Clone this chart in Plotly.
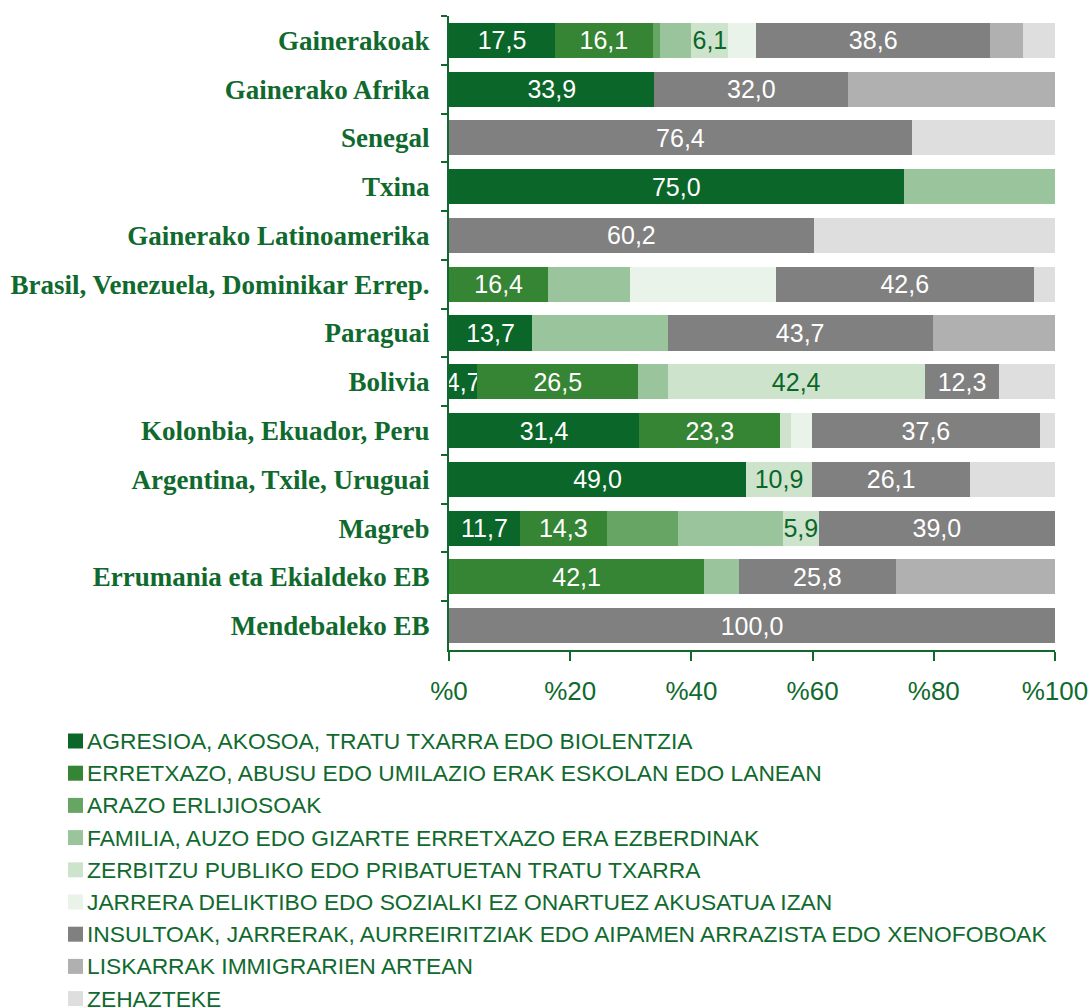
import plotly.graph_objects as go

# Origin groups, listed top to bottom
groups = [
    "Gainerakoak",
    "Gainerako Afrika",
    "Senegal",
    "Txina",
    "Gainerako Latinoamerika",
    "Brasil, Venezuela, Dominikar Errep.",
    "Paraguai",
    "Bolivia",
    "Kolonbia, Ekuador, Peru",
    "Argentina, Txile, Uruguai",
    "Magreb",
    "Errumania eta Ekialdeko EB",
    "Mendebaleko EB",
]

# Share (%) of each type of discrimination, one list per type, aligned with groups
agresioa     = [17.5, 33.9, 0.0, 75.0, 0.0, 0.0, 13.7, 4.7, 31.4, 49.0, 11.7, 0.0, 0.0]
erretxazo    = [16.1, 0.0, 0.0, 0.0, 0.0, 16.4, 0.0, 26.5, 23.3, 0.0, 14.3, 42.1, 0.0]
erlijioa     = [1.2, 0.0, 0.0, 0.0, 0.0, 0.0, 0.0, 0.0, 0.0, 0.0, 11.8, 0.0, 0.0]
familia      = [5.2, 0.0, 0.0, 25.0, 0.0, 13.5, 22.4, 4.9, 0.0, 0.0, 17.3, 5.8, 0.0]
zerbitzu     = [6.1, 0.0, 0.0, 0.0, 0.0, 0.0, 0.0, 42.4, 1.7, 10.9, 5.9, 0.0, 0.0]
jarrera      = [4.6, 0.0, 0.0, 0.0, 0.0, 24.0, 0.0, 0.0, 3.5, 0.0, 0.0, 0.0, 0.0]
insultoak    = [38.6, 32.0, 76.4, 0.0, 60.2, 42.6, 43.7, 12.3, 37.6, 26.1, 39.0, 25.8, 100.0]
liskarrak    = [5.4, 34.1, 0.0, 0.0, 0.0, 0.0, 20.2, 0.0, 0.0, 0.0, 0.0, 26.3, 0.0]
zehazteke    = [5.3, 0.0, 23.6, 0.0, 39.8, 3.5, 0.0, 9.2, 2.5, 14.0, 0.0, 0.0, 0.0]

series_names = [
    "AGRESIOA, AKOSOA, TRATU TXARRA EDO BIOLENTZIA",
    "ERRETXAZO, ABUSU EDO UMILAZIO ERAK ESKOLAN EDO LANEAN",
    "ARAZO ERLIJIOSOAK",
    "FAMILIA, AUZO EDO GIZARTE ERRETXAZO ERA EZBERDINAK",
    "ZERBITZU PUBLIKO EDO PRIBATUETAN TRATU TXARRA",
    "JARRERA DELIKTIBO EDO SOZIALKI EZ ONARTUEZ AKUSATUA IZAN",
    "INSULTOAK, JARRERAK, AURREIRITZIAK EDO AIPAMEN ARRAZISTA EDO XENOFOBOAK",
    "LISKARRAK IMMIGRARIEN ARTEAN",
    "ZEHAZTEKE",
]
series_values = [agresioa, erretxazo, erlijioa, familia, zerbitzu,
                 jarrera, insultoak, liskarrak, zehazteke]

x_ticks = [0, 20, 40, 60, 80, 100]
x_tick_labels = ["%0", "%20", "%40", "%60", "%80", "%100"]

# Styling
colors = ["#0b6629", "#358534", "#67a564", "#9ac49b", "#cde3cc",
          "#eaf3ea", "#808080", "#b0b0b0", "#dedede"]
label_colors = ["white", "white", None, None, "#0b6629", None, "white", None, None]
MIN_LABEL = 4.5
GREEN = "#106a2e"

W, H = 1091, 1008
M_L, M_R, M_T, M_B = 449, 36, 16, 358


def px_to_paper(px, py):
    pw = W - M_L - M_R
    ph = H - M_T - M_B
    return (px - M_L) / pw, (H - M_B - py) / ph


def fmt(v):
    return f"{v:.1f}".replace(".", ",")


fig = go.Figure()
for name, vals, col, lcol in zip(series_names, series_values, colors, label_colors):
    texts = [fmt(v) if (lcol and v >= MIN_LABEL) else "" for v in vals]
    fig.add_trace(go.Bar(
        y=groups, x=vals, name=name, orientation="h",
        marker=dict(color=col, line=dict(width=0)),
        text=texts, textposition="inside", insidetextanchor="middle",
        textangle=0, constraintext="none",
        textfont=dict(family="Liberation Sans, Arial, sans-serif", size=25,
                      color=lcol or "white"),
        hoverinfo="x+y+name", showlegend=False,
    ))

# Legend drawn as squares and labels under the chart
shapes, annotations = [], []
for i, (name, col) in enumerate(zip(series_names, colors)):
    cy = 741 + 32.2 * i
    x0, y0 = px_to_paper(68, cy + 7.5)
    x1, y1 = px_to_paper(83, cy - 7.5)
    shapes.append(dict(type="rect", xref="paper", yref="paper",
                       x0=x0, x1=x1, y0=y0, y1=y1,
                       fillcolor=col, line=dict(width=0), layer="above"))
    tx, ty = px_to_paper(85, cy)
    annotations.append(dict(xref="paper", yref="paper", x=tx, y=ty,
                            xanchor="left", yanchor="middle", showarrow=False,
                            text=name,
                            font=dict(family="Liberation Sans, Arial, sans-serif",
                                      size=22.8, color=GREEN)))

fig.update_layout(
    width=W, height=H,
    margin=dict(l=M_L, r=M_R, t=M_T, b=M_B, autoexpand=False),
    barmode="stack", bargap=0.28,
    plot_bgcolor="white", paper_bgcolor="white",
    shapes=shapes, annotations=annotations,
    showlegend=False,
    xaxis=dict(
        range=[0, 100], tickvals=x_ticks, ticktext=x_tick_labels,
        showgrid=False, zeroline=False, automargin=False,
        showline=True, linecolor=GREEN, linewidth=2,
        ticks="outside", ticklen=9, tickwidth=2, tickcolor=GREEN,
        ticklabelstandoff=8,
        tickfont=dict(family="Liberation Sans, Arial, sans-serif", size=26, color=GREEN),
    ),
    yaxis=dict(
        categoryorder="array", categoryarray=groups, autorange="reversed",
        showgrid=False, zeroline=False, automargin=False,
        showline=True, linecolor=GREEN, linewidth=2,
        ticks="outside", tickson="boundaries", ticklen=6, tickwidth=2, tickcolor=GREEN,
        ticklabelstandoff=12,
        tickfont=dict(family="Liberation Serif, Times New Roman, serif", size=27,
                      weight="bold", color=GREEN),
    ),
)

fig.write_html("out.html")
